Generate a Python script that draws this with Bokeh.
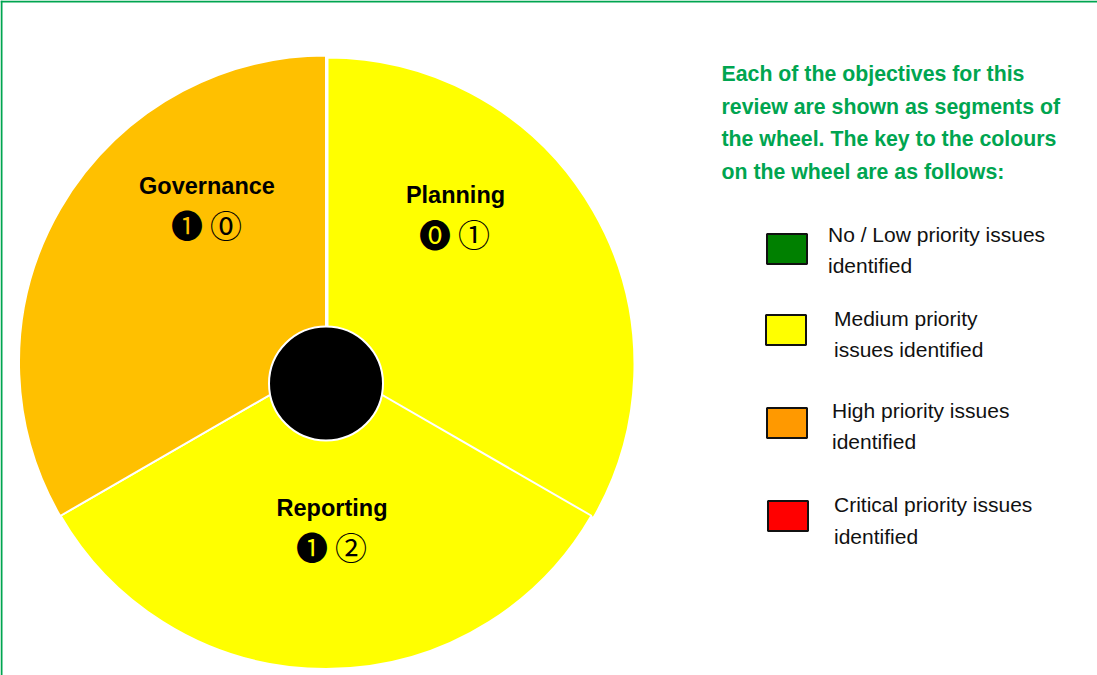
import numpy as np
from bokeh.plotting import figure
from bokeh.models import Range1d
from bokeh.embed import file_html
from bokeh.resources import INLINE
from bokeh.core.properties import value

# ---------------- data ----------------
segments = ["Planning", "Reporting", "Governance"]
weights = [1, 1, 1]
ratings = ["Medium", "Medium", "High"]
badges = ["\u24ff \u2460", "\u2776 \u2461", "\u2776 \u24ea"]

header_lines = [
    "Each of the objectives for this",
    "review are shown as segments of",
    "the wheel. The key to the colours",
    "on the wheel are as follows:",
]
key_levels = ["Low", "Medium", "High", "Critical"]
key_lines = [
    ["No / Low priority issues", "identified"],
    ["Medium priority", "issues identified"],
    ["High priority issues", "identified"],
    ["Critical priority issues", "identified"],
]

# ---------------- styles / layout ----------------
W, H = 1097, 675
wheel_colors = {"Medium": "#FFFF00", "High": "#FFC000"}
key_colors = {"Low": "#008000", "Medium": "#FFFF00", "High": "#FF9900", "Critical": "#FF0000"}
GREEN = "#00A550"
TXT_SHIFT = -7.5   # renderer baseline correction

def Y(ys):
    return H - np.asarray(ys, dtype=float)

cx, cy, R = 325.5, 362.0, 307.0
explode = {"Planning": (1.5, 2.0), "Reporting": (0.0, 0.0), "Governance": (0.0, 0.0)}
radius_adj = {"Planning": 0.0, "Reporting": -0.5, "Governance": 0.0}
name_pos = {"Planning": (455, 201.5), "Reporting": (331.5, 515), "Governance": (206.5, 193)}
badge_pos = {"Planning": (454, 232), "Reporting": (331, 545.5), "Governance": (206, 223.5)}

p = figure(width=W, height=H, output_backend="svg", toolbar_location=None,
           x_range=Range1d(0, W), y_range=Range1d(0, H), min_border=0)
p.axis.visible = False
p.grid.visible = False
p.outline_line_color = None
p.background_fill_color = "white"

# border lines (top and left)
p.segment(x0=[1, 0], y0=Y([0, 1]), x1=[1, W], y1=Y([H, 1]), line_color=GREEN, line_width=2)

# wheel
total = float(sum(weights))
start = np.pi / 2
for seg, w, r in zip(segments, weights, ratings):
    ang = 2 * np.pi * w / total
    ex, ey = explode[seg]
    p.wedge(x=[cx + ex], y=Y([cy + ey]), radius=R + radius_adj[seg],
            start_angle=start, end_angle=start - ang, direction="clock",
            fill_color=wheel_colors[r], line_color="white", line_width=2)
    start -= ang

# hub
p.scatter(x=[cx], y=Y([383]), size=114, marker="circle", fill_color="black",
          line_color="white", line_width=2)

# labels
for seg, b in zip(segments, badges):
    nx, ny = name_pos[seg]
    p.text(x=[nx], y=Y([ny + TXT_SHIFT]), text=[seg], text_font=value("Liberation Sans"),
           text_font_style="bold", text_font_size="23.5px", text_align="center",
           text_baseline="alphabetic", text_color="black")
    bx, by = badge_pos[seg]
    p.text(x=[bx], y=Y([by]), text=[b], text_font=value("Noto Sans CJK JP"),
           text_font_size="32px", text_align="center", text_baseline="middle",
           text_color="black")

# header
hy = np.array([81, 113.5, 146, 178.5]) + TXT_SHIFT
p.text(x=[721] * 4, y=Y(hy), text=header_lines, text_font=value("Liberation Sans"),
       text_font_style="bold", text_font_size="21.3px", text_color=GREEN,
       text_baseline="alphabetic")

# key
box_top = [233.5, 314.5, 407.5, 500.5]
box_left = [766.5, 765.5, 766.5, 767.5]
text_x = [827.5, 833.5, 831.5, 833.5]
base1 = [241, 325, 417, 511.5]
for lvl, bt, bl, tx, b1, lines in zip(key_levels, box_top, box_left, text_x, base1, key_lines):
    p.quad(left=[bl], right=[bl + 40], top=Y([bt]), bottom=Y([bt + 30]),
           fill_color=key_colors[lvl], line_color="#111111", line_width=2)
    b = b1 + TXT_SHIFT
    p.text(x=[tx, tx], y=Y([b, b + 31.5]), text=lines, text_font=value("Liberation Sans"),
           text_font_size="21px", text_color="#111111", text_baseline="alphabetic")

open("out.html", "w").write(file_html(p, INLINE))
